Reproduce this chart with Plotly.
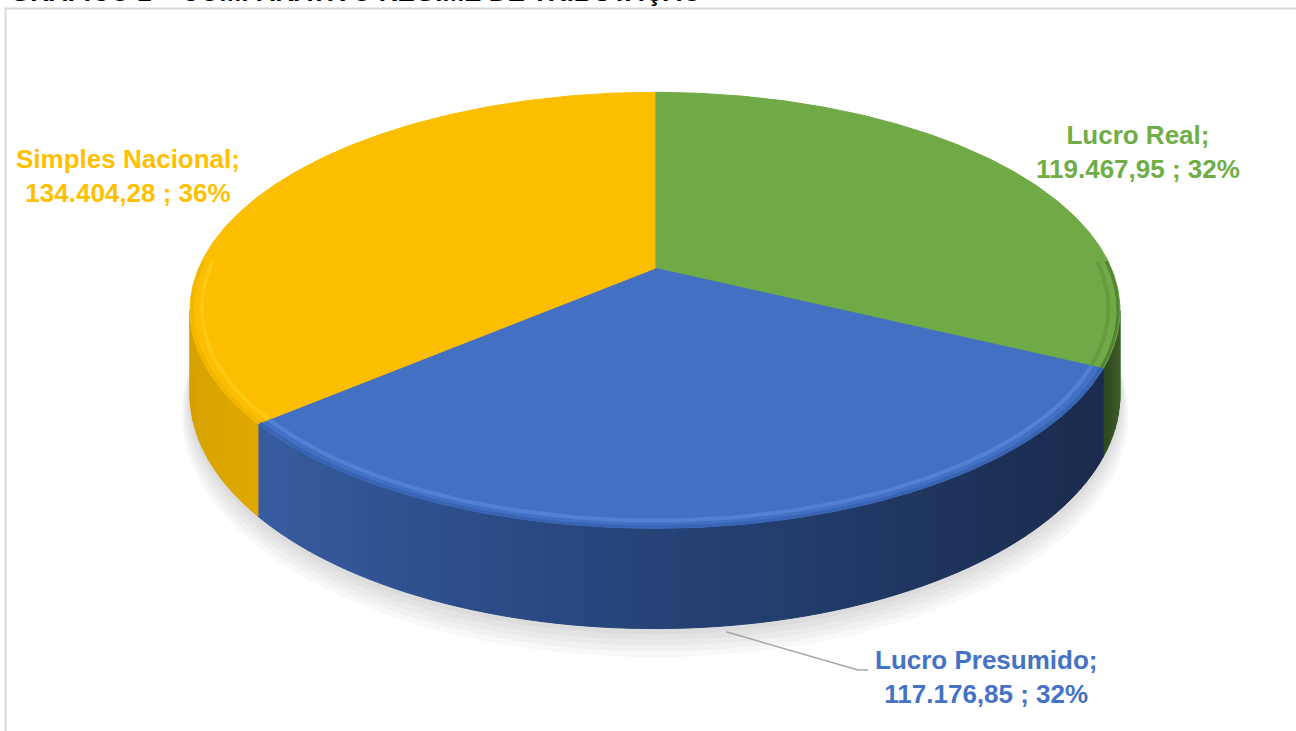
import numpy as np
import plotly.graph_objects as go

# ---------------- data ----------------
categories = ["Lucro Real", "Lucro Presumido", "Simples Nacional"]
values = [119467.95, 117176.85, 134404.28]
title_text = "GRÁFICO 1 – COMPARATIVO REGIME DE TRIBUTAÇÃO"

# ---------------- styles ----------------
top_colors = {"Lucro Real": "#70AA47", "Lucro Presumido": "#4370C2", "Simples Nacional": "#FBBE00"}
label_colors = {"Lucro Real": "#70AD47", "Lucro Presumido": "#4472C4", "Simples Nacional": "#FFC000"}
side_stops = {
    "Lucro Real": [(0.0, "#44672b"), (1.0, "#2f4a1f")],
    "Lucro Presumido": [(0.0, "#3b60a8"), (0.35, "#2a4a84"), (0.7, "#213a67"), (1.0, "#1a2a4b")],
    "Simples Nacional": [(0.0, "#dfa900"), (1.0, "#d6a000")],
}
rim_light = {"Lucro Real": "#5f9139", "Lucro Presumido": "#5f8fe4", "Simples Nacional": "#ffd21f"}
rim_dark = {"Lucro Real": "#4c7a30", "Lucro Presumido": "#3562b0", "Simples Nacional": "#f0b400"}

# projection parameters of the tilted 3D pie (pixel space)
CX, CY = 655.0, 268.3
A, AS, Q, H = 456.3, 209.9, 0.1926, 81.0
SIL = np.degrees(np.arccos(-Q))  # silhouette angle


def proj(th_deg, r=1.0, h=0.0):
    t = np.radians(np.asarray(th_deg, dtype=float))
    d = 1 + Q * r * np.cos(t)
    x = CX + A * r * np.sin(t) / d
    y = CY + (-AS * r * np.cos(t) + H * h) / d
    return x, y


def hex2rgb(h):
    h = h.lstrip("#")
    return np.array([int(h[i:i + 2], 16) for i in (0, 2, 4)], dtype=float)


def grad(stops, f):
    f = min(max(f, 0.0), 1.0)
    for (f0, c0), (f1, c1) in zip(stops[:-1], stops[1:]):
        if f0 <= f <= f1:
            k = (f - f0) / (f1 - f0) if f1 > f0 else 0
            c = hex2rgb(c0) * (1 - k) + hex2rgb(c1) * k
            return "rgb(%d,%d,%d)" % tuple(c.round())
    return stops[-1][1]


def br_fmt(v):
    s = f"{v:,.2f}"
    return s.replace(",", "X").replace(".", ",").replace("X", ".")


total = sum(values)
fracs = [v / total for v in values]
starts = np.concatenate([[0], np.cumsum(fracs)[:-1]]) * 360
ends = np.cumsum(fracs) * 360

fig = go.Figure()

# soft shadow below the pie
for k in range(6):
    th = np.linspace(0, 360, 181)
    sx, sy = proj(th, 1.0 + 0.0035 * k, 1.0 + 0.045 * k)
    fig.add_trace(go.Scatter(x=sx, y=sy, mode="lines", fill="toself", line=dict(width=0),
                             fillcolor="rgba(0,0,0,0.028)", hoverinfo="skip"))

# sides (front visible portion)
xl, _ = proj(360 - SIL)
xr, _ = proj(SIL)
for cat, s, e in zip(categories, starts, ends):
    a0, a1 = max(s, SIL), min(e, 360 - SIL)
    if a1 <= a0:
        continue
    n = max(2, int((a1 - a0) / 1.5))
    edges = np.linspace(a0, a1, n + 1)
    for t0, t1 in zip(edges[:-1], edges[1:]):
        th = np.linspace(t0, t1, 4)
        tx, ty = proj(th, 1, 0)
        bx, by = proj(th[::-1], 1, 1)
        mx, _ = proj((t0 + t1) / 2)
        col = grad(side_stops[cat], (mx - xl) / (xr - xl) if cat == "Lucro Presumido" else (t1 - a0) / max(a1 - a0, 1e-6))
        fig.add_trace(go.Scatter(x=np.concatenate([tx, bx, tx[:1]]), y=np.concatenate([ty, by, ty[:1]]),
                                 mode="lines", fill="toself", fillcolor=col,
                                 line=dict(color=col, width=1), hoverinfo="skip"))

# top faces
for cat, s, e in zip(categories, starts, ends):
    th = np.linspace(s, e, 200)
    ax, ay = proj(th)
    fig.add_trace(go.Scatter(x=np.concatenate([[CX], ax, [CX]]), y=np.concatenate([[CY], ay, [CY]]),
                             mode="lines", fill="toself", fillcolor=top_colors[cat],
                             line=dict(color=top_colors[cat], width=1), hoverinfo="skip"))

# bevel rim on the front half of the top faces
for cat, s, e in zip(categories, starts, ends):
    a0, a1 = max(s, 88), min(e, 272)
    if a1 <= a0:
        continue
    th = np.linspace(a0, a1, 120)
    dx, dy = proj(th, 0.996)
    fig.add_trace(go.Scatter(x=dx, y=dy, mode="lines", line=dict(color=rim_dark[cat], width=3),
                             hoverinfo="skip", opacity=0.8))
    lx, ly = proj(th, 0.976)
    fig.add_trace(go.Scatter(x=lx, y=ly, mode="lines", line=dict(color=rim_light[cat], width=4),
                             hoverinfo="skip", opacity=0.55))

# leader line for Lucro Presumido
i_lp = categories.index("Lucro Presumido")
mid = (starts[i_lp] + ends[i_lp]) / 2
px0, py0 = proj(mid, 1, 1.06)
fig.add_trace(go.Scatter(x=[px0, 858, 868], y=[py0, 670, 670], mode="lines",
                         line=dict(color="#a6a6a6", width=1.5), hoverinfo="skip"))

# labels
label_pos = {"Simples Nacional": (128, 176), "Lucro Real": (1138, 152), "Lucro Presumido": (986, 677)}
annotations = []
for cat, v, f in zip(categories, values, fracs):
    x, y = label_pos[cat]
    annotations.append(dict(x=x, y=y, xref="x", yref="y", xanchor="center", yanchor="middle",
                            text=f"<b>{cat};</b><br><b>{br_fmt(v)} ; {round(f * 100):.0f}%</b>", showarrow=False,
                            font=dict(family="Liberation Sans, Arial", size=26, color=label_colors[cat]),
                            align="center"))
annotations.append(dict(x=8, y=9.5, xref="x", yref="y", xanchor="left", yanchor="bottom",
                        text=f"<b>{title_text}</b>", showarrow=False,
                        font=dict(family="Liberation Sans, Arial", size=26, color="#000000")))

fig.update_layout(
    width=1296, height=731, margin=dict(l=0, r=0, t=0, b=0),
    paper_bgcolor="white", plot_bgcolor="white", showlegend=False,
    xaxis=dict(range=[0, 1296], visible=False, fixedrange=True),
    yaxis=dict(range=[731, 0], visible=False, fixedrange=True),
    annotations=annotations,
    shapes=[dict(type="rect", xref="x", yref="y", x0=5.5, y0=8.5, x1=1310, y1=745,
                 line=dict(color="#d9d9d9", width=2), layer="below")],
)
fig.write_html("out.html")
